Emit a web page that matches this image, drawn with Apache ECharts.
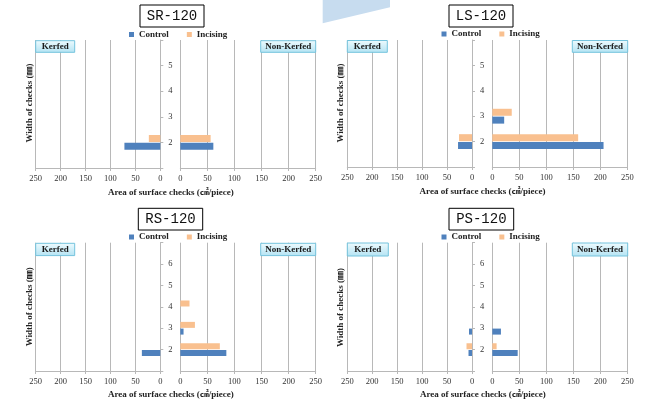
<!DOCTYPE html>
<html><head><meta charset="utf-8">
<script src="https://cdn.jsdelivr.net/npm/echarts@6/dist/echarts.min.js"></script>
<style>html,body{margin:0;padding:0;background:#fff}#c{width:654px;height:409px}</style>
</head><body><div id="c"></div><script>
// ---- data ----
const xMin = 0, xMax = 250, xStep = 50;
const topCats = ['1','2','3','4','5','6'];
const bottomCats = ['1','2','3','4','5','6','7'];
const seriesNames = ['Control','Incising'];
const panelTitles = ['SR-120','LS-120','RS-120','PS-120'];
const sideLabels = ['Kerfed','Non-Kerfed'];
const xAxisTitle = 'Area of surface checks (㎠/piece)';
const yAxisTitle = 'Width of checks (㎜)';

const srKerfedControl    = [null,72,null,null,null,null];
const srKerfedIncising   = [null,23,null,null,null,null];
const srNonKerfedControl = [null,61,null,null,null,null];
const srNonKerfedIncising= [null,56,null,null,null,null];

const lsKerfedControl    = [null,28,null,null,null,null];
const lsKerfedIncising   = [null,26,null,null,null,null];
const lsNonKerfedControl = [null,206,22,null,null,null];
const lsNonKerfedIncising= [null,159,36,null,null,null];

const rsKerfedControl    = [null,37,null,null,null,null,null];
const rsKerfedIncising   = [null,null,null,null,null,null,null];
const rsNonKerfedControl = [null,85,6,null,null,null,null];
const rsNonKerfedIncising= [null,73,27,17,null,null,null];

const psKerfedControl    = [null,7,6,null,null,null,null];
const psKerfedIncising   = [null,11,null,null,null,null,null];
const psNonKerfedControl = [null,47,16,null,null,null,null];
const psNonKerfedIncising= [null,8,null,null,null,null,null];

// ---- layout / style ----
const serif = "'Liberation Serif','Noto Sans CJK KR',serif";
const colors = ['#4f81bd','#f9c08f'];
const gridCol = '#b8b8b8';
const panels = [
  {cats: topCats, data:[srKerfedControl,srKerfedIncising,srNonKerfedControl,srNonKerfedIncising],
   lx:35.7, lw:124.6, rx:180.3, rw:135.4, top:40, h:128, bw:7,
   title:[140,5,64,22], legend:[129,30], kb:[35.7,40.7,39,11.6], nb:[260.7,40.7,55,11.6],
   xname:[170.8,192.7], yname:[29.3,103]},
  {cats: topCats, data:[lsKerfedControl,lsKerfedIncising,lsNonKerfedControl,lsNonKerfedIncising],
   lx:347.3, lw:124.7, rx:492.3, rw:135, top:40, h:127, bw:7,
   title:[449,5,64,22], legend:[441.5,29.5], kb:[347.3,40.5,40,11.8], nb:[572.3,40.5,55.4,11.8],
   xname:[482.5,191.7], yname:[341,103]},
  {cats: bottomCats, data:[rsKerfedControl,rsKerfedIncising,rsNonKerfedControl,rsNonKerfedIncising],
   lx:35.7, lw:124.6, rx:180.3, rw:135.4, top:242.7, h:128.3, bw:6,
   title:[138.3,208.3,64.4,21.7], legend:[129,232.5], kb:[35.7,243.3,39,12.3], nb:[260.7,243.3,55,12.3],
   xname:[170.8,394.3], yname:[29.3,306.7]},
  {cats: bottomCats, data:[psKerfedControl,psKerfedIncising,psNonKerfedControl,psNonKerfedIncising],
   lx:347.3, lw:124.7, rx:492.3, rw:135, top:242.7, h:128.3, bw:6,
   title:[449,208.3,64.7,21.7], legend:[441.5,232.5], kb:[347.3,243,41,13], nb:[572.3,243,55.4,13],
   xname:[482.8,394.3], yname:[341,307.5]}
];

const grid=[], xAxis=[], yAxis=[], series=[], legend=[];
const graphic = [{
  type:'polygon', z:0, shape:{points:[[322.7,0],[390,0],[390,7.3],[322.7,23.3]]},
  style:{fill:'#c7dcef'}
}];

function xAx(gi, inverse){
  return {
    type:'value', gridIndex:gi, min:xMin, max:xMax, interval:xStep, inverse:inverse,
    axisLine:{show:true, lineStyle:{color:gridCol, width:1}},
    axisTick:{show:true, length:3, lineStyle:{color:gridCol}},
    axisLabel:{fontFamily:serif, fontSize:8.5, color:'#333', margin:7},
    splitLine:{show:true, lineStyle:{color:gridCol, width:1}}
  };
}

panels.forEach((p, i) => {
  const gL = 2*i, gR = 2*i+1;
  const last = p.cats.length - 1;
  grid.push({left:p.lx, top:p.top, width:p.lw, height:p.h});
  grid.push({left:p.rx, top:p.top, width:p.rw, height:p.h});
  xAxis.push(xAx(gL, true));
  xAxis.push(xAx(gR, false));
  yAxis.push({
    type:'category', gridIndex:gL, data:p.cats, boundaryGap:false, position:'right',
    axisLine:{show:true, onZero:false, lineStyle:{color:gridCol}},
    axisTick:{show:true, length:3, inside:false, lineStyle:{color:gridCol}},
    axisLabel:{interval:0, fontFamily:serif, fontSize:8.5, color:'#333', margin:8,
      formatter:(v, idx) => (idx === 0 || idx === last) ? '' : v},
    splitLine:{show:false}
  });
  yAxis.push({
    type:'category', gridIndex:gR, data:p.cats, boundaryGap:false,
    axisLine:{show:false}, axisTick:{show:false}, axisLabel:{show:false}, splitLine:{show:false}
  });
  // Incising first so it sits above Control in each group
  [[gL,0,1],[gR,2,3]].forEach(([g,a,b]) => {
    [[b,1],[a,0]].forEach(([di, k]) => {
      series.push({
        type:'bar', name:seriesNames[k], xAxisIndex:g, yAxisIndex:g,
        data:p.data[di], barWidth:p.bw, barGap:'12%',
        itemStyle:{color:colors[k]}, animation:false, silent:true
      });
    });
  });
  legend.push({
    data:seriesNames, left:p.legend[0], top:p.legend[1], icon:'rect', itemWidth:5, itemHeight:5,
    itemGap:18, padding:0, textStyle:{fontFamily:serif, fontSize:9, fontWeight:'bold', color:'#222'},
    selectedMode:false
  });
  const t = p.title;
  graphic.push({type:'rect', z:10, shape:{x:t[0], y:t[1], width:t[2], height:t[3]}, style:{fill:'#fff', stroke:'#000', lineWidth:1}});
  graphic.push({type:'text', z:11, x:t[0]+t[2]/2, y:t[1]+t[3]/2+0.5,
    style:{text:panelTitles[i], textAlign:'center', textVerticalAlign:'middle', fontFamily:"'Liberation Mono',monospace", fontSize:14, fill:'#111'}});
  [[p.kb, sideLabels[0]],[p.nb, sideLabels[1]]].forEach(([b, label]) => {
    graphic.push({type:'rect', z:10, shape:{x:b[0], y:b[1], width:b[2], height:b[3]},
      style:{fill:{type:'linear',x:0,y:0,x2:0,y2:1,colorStops:[{offset:0,color:'#effbfe'},{offset:1,color:'#b3e3f3'}]},
             stroke:'#74c3dd', lineWidth:1}});
    graphic.push({type:'text', z:11, x:b[0]+b[2]/2, y:b[1]+b[3]/2+0.5,
      style:{text:label, textAlign:'center', textVerticalAlign:'middle', fontFamily:serif, fontSize:9, fontWeight:'bold', fill:'#1a1a1a'}});
  });
  graphic.push({type:'text', z:11, x:p.xname[0], y:p.xname[1],
    style:{text:xAxisTitle, textAlign:'center', textVerticalAlign:'middle', fontFamily:serif, fontSize:9, fontWeight:'bold', fill:'#222'}});
  graphic.push({type:'text', z:11, x:p.yname[0], y:p.yname[1], rotation:Math.PI/2,
    style:{text:yAxisTitle, textAlign:'center', textVerticalAlign:'middle', fontFamily:serif, fontSize:9, fontWeight:'bold', fill:'#222'}});
});

const chart = echarts.init(document.getElementById('c'), null, {renderer:'canvas'});
chart.setOption({animation:false, backgroundColor:'#fff', grid, xAxis, yAxis, series, legend, graphic});
</script></body></html>
